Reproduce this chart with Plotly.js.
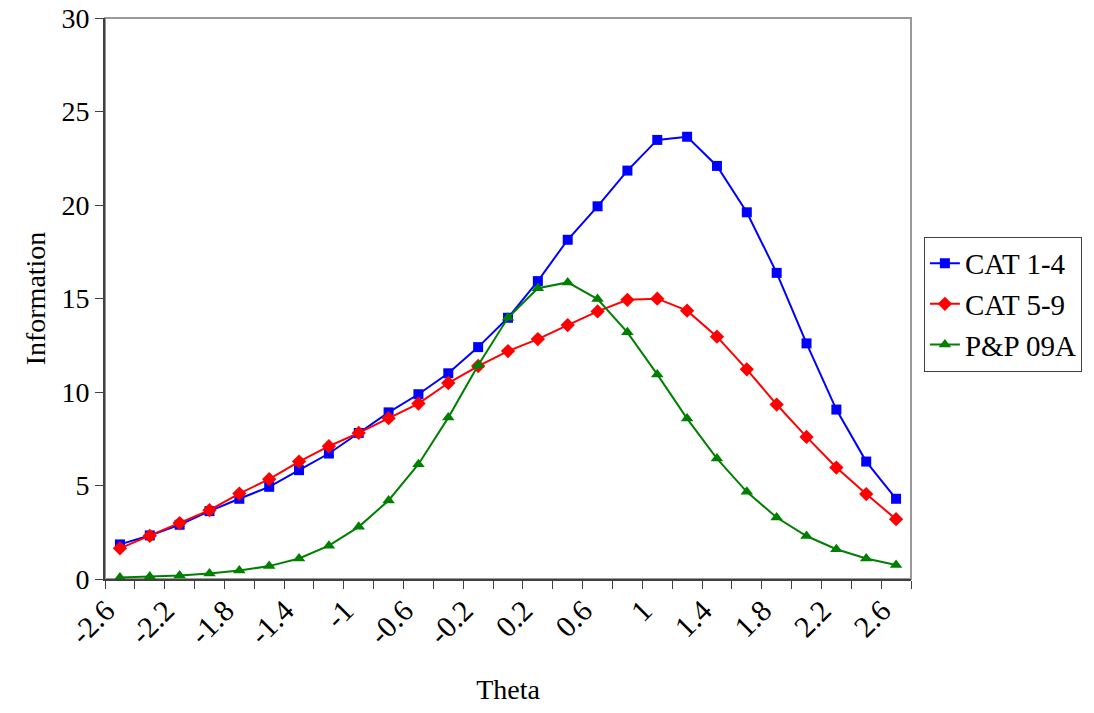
<!DOCTYPE html>
<html>
<head>
<meta charset="utf-8">
<script src="https://cdn.plot.ly/plotly-3.0.1.min.js"></script>
<style>html,body{margin:0;padding:0;background:#fff;}#chart{width:1094px;height:713px;}</style>
</head>
<body>
<div id="chart"></div>
<script>
const theta = [-2.6,-2.4,-2.2,-2.0,-1.8,-1.6,-1.4,-1.2,-1.0,-0.8,-0.6,-0.4,-0.2,0.0,0.2,0.4,0.6,0.8,1.0,1.2,1.4,1.6,1.8,2.0,2.2,2.4,2.6];
const cat14 = [1.85,2.33,2.90,3.63,4.29,4.93,5.82,6.71,7.81,8.91,9.88,11.0,12.40,13.97,15.93,18.14,19.93,21.84,23.48,23.65,22.09,19.61,16.37,12.60,9.06,6.28,4.29];
const cat59 = [1.64,2.31,2.99,3.68,4.57,5.34,6.28,7.10,7.81,8.60,9.38,10.48,11.39,12.19,12.83,13.58,14.31,14.93,14.99,14.35,12.96,11.21,9.33,7.60,5.96,4.54,3.20];
const pp09a = [0.08,0.13,0.19,0.29,0.45,0.69,1.10,1.78,2.79,4.20,6.14,8.63,11.43,13.97,15.55,15.86,14.97,13.19,10.94,8.58,6.44,4.66,3.29,2.30,1.59,1.10,0.75];
const tickVals = [-2.6,-2.2,-1.8,-1.4,-1.0,-0.6,-0.2,0.2,0.6,1.0,1.4,1.8,2.2,2.6];
const tickText = ["-2.6","-2.2","-1.8","-1.4","-1","-0.6","-0.2","0.2","0.6","1","1.4","1.8","2.2","2.6"];
const seriesNames = ["CAT 1-4","CAT 5-9","P&P 09A"];

const font = "Liberation Serif, Times New Roman, serif";
const traces = [
  {x: theta, y: cat14, name: seriesNames[0], legendgroup: "a", mode: "lines+markers",
   line: {color: "#0000FF", width: 2}, marker: {symbol: "square", size: 10, color: "#0000FF"}},
  {x: theta, y: cat59, name: seriesNames[1], legendgroup: "b", mode: "lines+markers",
   line: {color: "#FF0000", width: 2}, marker: {symbol: "diamond", size: 11, color: "#FF0000"}},
  {x: theta, y: pp09a, name: seriesNames[2], legendgroup: "c", mode: "lines+markers",
   line: {color: "#008000", width: 2}, marker: {symbol: "triangle-up", size: 11, color: "#008000"}}
];
const layout = {
  width: 1094, height: 713,
  margin: {l: 105, r: 183, t: 18, b: 134, pad: 0},
  paper_bgcolor: "#fff", plot_bgcolor: "#fff",
  font: {family: font, size: 28, color: "#000"},
  showlegend: true,
  legend: {x: 1.016, xanchor: "left", y: 0.61, yanchor: "top",
    bgcolor: "#fff", bordercolor: "#404040", borderwidth: 1,
    font: {family: font, size: 29, color: "#000"}, tracegroupgap: 0, traceorder: "grouped"},
  xaxis: {
    range: [-2.7, 2.7], showgrid: false, zeroline: false,
    showline: true, linecolor: "#404040", linewidth: 2,
    tickmode: "array", tickvals: tickVals, ticktext: tickText, ticks: "",
    tickangle: -45, tickfont: {family: font, size: 30}, ticklabelshift: -14,
    minor: {tickmode: "linear", tick0: -2.7, dtick: 0.2, ticks: "outside", ticklen: 8, tickwidth: 1, tickcolor: "#404040", showgrid: false},
    title: {text: "Theta", font: {family: font, size: 28}, standoff: 30}
  },
  yaxis: {
    range: [0, 30], dtick: 5, showgrid: false, zeroline: false,
    showline: true, linecolor: "#404040", linewidth: 2,
    ticks: "outside", ticklen: 8, tickwidth: 1, tickcolor: "#404040",
    tickfont: {family: font, size: 28},
    title: {text: "Information", font: {family: font, size: 28}, standoff: 8}
  },
  shapes: [{type: "rect", xref: "paper", yref: "paper", x0: 0, x1: 1, y0: 0, y1: 1,
    line: {color: "#999999", width: 2}, layer: "below"}]
};
Plotly.newPlot("chart", traces, layout, {staticPlot: true, displayModeBar: false});
</script>
</body>
</html>
